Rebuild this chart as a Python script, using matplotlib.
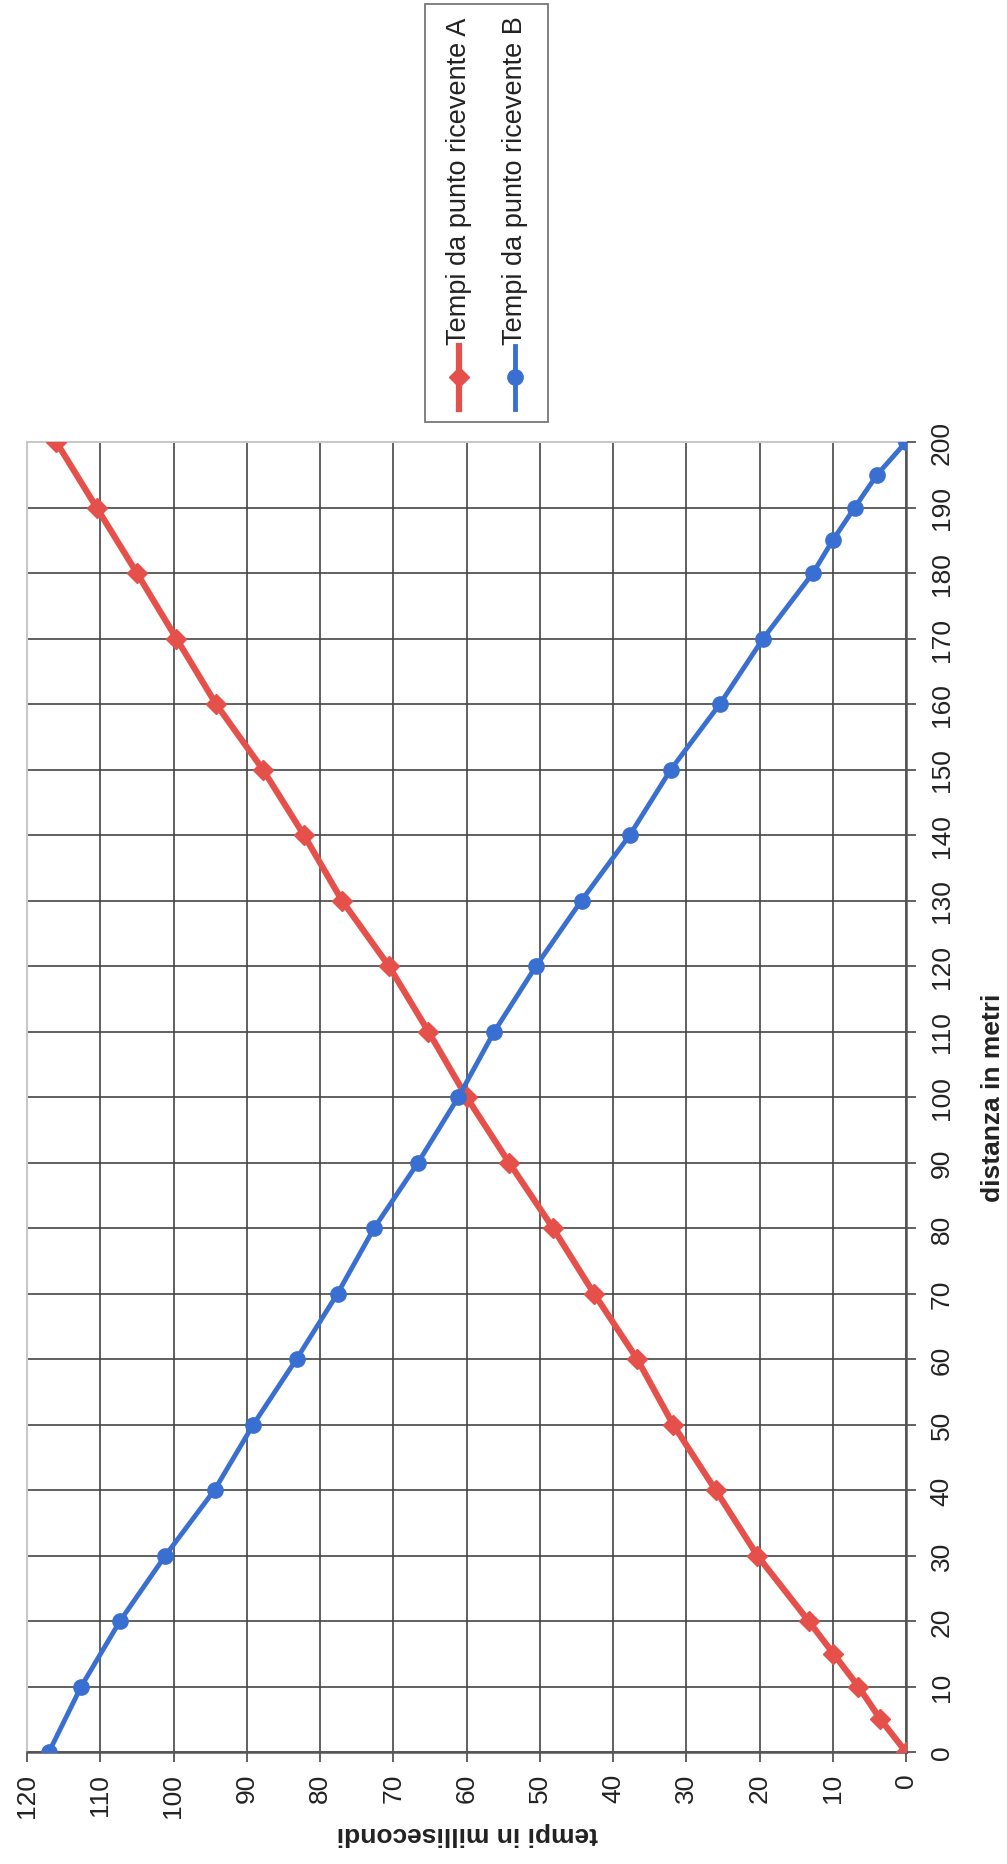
import numpy as np
import matplotlib
matplotlib.use('Agg')
import matplotlib.pyplot as plt
from matplotlib.patches import Rectangle
from matplotlib.lines import Line2D

plt.rcParams['font.family'] = ['Liberation Sans', 'DejaVu Sans']

# dati (distanza in metri -> tempo in ms)
dist_a = [0, 5, 10, 15, 20, 30, 40, 50, 60, 70, 80, 90, 100, 110, 120, 130, 140, 150, 160, 170, 180, 190, 200]
tempi_a = [0, 3.5, 6.5, 9.9, 13.3, 20.3, 26.0, 31.8, 36.7, 42.6, 48.2, 54.2, 60.0, 65.2, 70.6, 77.0, 82.2, 87.8, 94.2, 99.6, 105.0, 110.5, 116.0]

dist_b = [0, 10, 20, 30, 40, 50, 60, 70, 80, 90, 100, 110, 120, 130, 140, 150, 160, 170, 180, 185, 190, 195, 200]
tempi_b = [117.0, 112.6, 107.3, 101.1, 94.4, 89.1, 83.2, 77.6, 72.6, 66.6, 61.1, 56.2, 50.5, 44.3, 37.7, 32.1, 25.4, 19.5, 12.7, 10.0, 7.0, 3.95, 0]

serie_nomi = ['Tempi da punto ricevente A', 'Tempi da punto ricevente B']
tick_dist = list(range(0, 201, 10))
tick_tempi = list(range(0, 121, 10))

RED = '#e5504a'
BLUE = '#3a6fd2'
W, H = 1007, 1865

fig = plt.figure(figsize=(W / 100, H / 100), dpi=100)
fig.patch.set_facecolor('white')

# grafico ruotato di 90 gradi: tempo in orizzontale (invertito), distanza in verticale
L, R, T, B = 27, 906, 443, 1753
ax = fig.add_axes([L / W, 1 - B / H, (R - L) / W, (B - T) / H])
ax.plot(tempi_a, dist_a, color=RED, lw=4.5, marker='D', ms=10, zorder=3)
ax.plot(tempi_b, dist_b, color=BLUE, lw=3.5, marker='o', ms=11, zorder=4)

ax.set_xlim(120, 0)
ax.set_ylim(0, 200)
ax.set_xticks(tick_tempi)
ax.set_yticks(tick_dist)
ax.yaxis.tick_right()
ax.grid(True, color='#454545', lw=1.2, zorder=1)
ax.set_axisbelow(True)

for s in ['left', 'top']:
    ax.spines[s].set_color('#c8c8c8')
    ax.spines[s].set_linewidth(1.5)
for s in ['right', 'bottom']:
    ax.spines[s].set_color('#555555')
    ax.spines[s].set_linewidth(1.8)

ax.tick_params(axis='x', direction='out', length=7, width=1.3, color='#555555',
               labelsize=19, labelrotation=90, pad=8, labelcolor='#222222')
ax.tick_params(axis='y', direction='out', length=7, width=1.3, color='#555555',
               labelsize=19, labelrotation=90, pad=10, labelcolor='#222222')
for lab in ax.get_yticklabels():
    lab.set_va('center')

# overlay in pixel per etichette e legenda
ov = fig.add_axes([0, 0, 1, 1], zorder=10)
ov.set_xlim(0, W)
ov.set_ylim(H, 0)
ov.axis('off')

ov.text(993, 1098, 'distanza in metri', rotation=90, ha='center', va='center',
        fontsize=19, fontweight='bold', color='#222222')
ov.text(467, 1834, 'tempi in millisecondi', rotation=180, ha='center', va='center',
        fontsize=19, fontweight='bold', color='#222222')

# legenda
ov.add_patch(Rectangle((425, 5), 123, 418, fill=False, edgecolor='#777777', lw=1.3))
for xc, col, mk, ms, lw, nome in [(459, RED, 'D', 10, 4.5, serie_nomi[0]),
                                  (515, BLUE, 'o', 11, 3.5, serie_nomi[1])]:
    ov.add_line(Line2D([xc, xc], [347, 410], color=col, lw=lw))
    ov.plot([xc], [378], marker=mk, ms=ms, color=col)
    ov.text(xc, 345, nome, rotation=90, rotation_mode='anchor', ha='left', va='center',
            fontsize=19.5, color='#222222')

plt.savefig('out.png', dpi=100, facecolor='white')
